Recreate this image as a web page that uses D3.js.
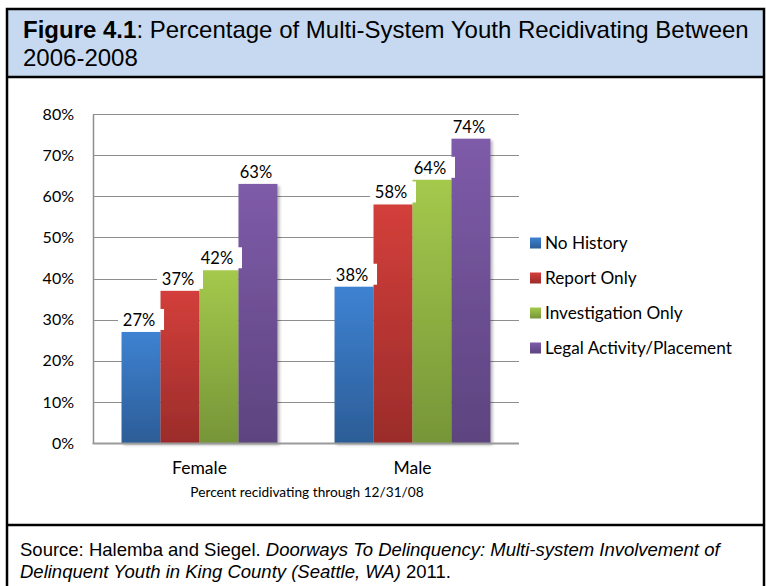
<!DOCTYPE html>
<html>
<head>
<meta charset="utf-8">
<script src="https://cdn.jsdelivr.net/npm/d3@7"></script>
<style>
  html, body { margin: 0; padding: 0; background: #fff; }
  svg { display: block; }
</style>
</head>
<body>
<svg id="chart" width="766" height="586"></svg>
<script>
// Recidivism rates by gender and prior system involvement
const groups = ["Female", "Male"];
const seriesNames = ["No History", "Report Only", "Investigation Only", "Legal Activity/Placement"];
const noHistory = [27, 38];
const reportOnly = [37, 58];
const investigationOnly = [42, 64];
const legalActivity = [63, 74];
const yTicks = [0, 10, 20, 30, 40, 50, 60, 70, 80];

const seriesValues = [noHistory, reportOnly, investigationOnly, legalActivity];
const seriesColors = [
  { top: "#3e82d2", bottom: "#2c5d97" },
  { top: "#d33f3b", bottom: "#9b2c2a" },
  { top: "#a4c94c", bottom: "#769538" },
  { top: "#7e5ba9", bottom: "#5d447f" }
];

const svg = d3.select("#chart");
const W = 766, H = 586;
const chartFont = "Lato, 'Open Sans', sans-serif";
const boxFont = "'Liberation Sans', Arial, sans-serif";

// Figure frame
svg.append("rect").attr("x", 0).attr("y", 0).attr("width", W).attr("height", H).attr("fill", "#fff");
svg.append("rect").attr("x", 7).attr("y", 9).attr("width", 757).attr("height", 68)
  .attr("fill", "#c6d9f1");
const frame = svg.append("g").attr("stroke", "#000").attr("stroke-width", 2.5).attr("fill", "none");
frame.append("path").attr("d", `M7,600 V9 H764 V600`);
frame.append("line").attr("x1", 7).attr("x2", 764).attr("y1", 77).attr("y2", 77);
frame.append("line").attr("x1", 7).attr("x2", 764).attr("y1", 525).attr("y2", 525);

// Title
const title = svg.append("text").attr("font-family", boxFont).attr("font-size", 24).attr("fill", "#000");
const t1 = title.append("tspan").attr("x", 23).attr("y", 38);
t1.append("tspan").attr("font-weight", "bold").text("Figure 4.1");
t1.append("tspan").text(": Percentage of Multi-System Youth Recidivating Between");
title.append("tspan").attr("x", 23).attr("y", 66).text("2006-2008");

// Source note
const src = svg.append("text").attr("font-family", boxFont).attr("font-size", 18.5).attr("fill", "#000");
const s1 = src.append("tspan").attr("x", 20).attr("y", 556);
s1.append("tspan").text("Source: Halemba and Siegel. ");
s1.append("tspan").attr("font-style", "italic").text("Doorways To Delinquency: Multi-system Involvement of");
const s2 = src.append("tspan").attr("x", 20).attr("y", 578);
s2.append("tspan").attr("font-style", "italic").text("Delinquent Youth in King County (Seattle, WA)");
s2.append("tspan").text(" 2011.");

// Gradients for bars
const defs = svg.append("defs");
seriesColors.forEach((c, i) => {
  const g = defs.append("linearGradient").attr("id", "grad" + i)
    .attr("x1", 0).attr("y1", 0).attr("x2", 0).attr("y2", 1);
  g.append("stop").attr("offset", "0%").attr("stop-color", c.top);
  g.append("stop").attr("offset", "100%").attr("stop-color", c.bottom);
});
const shadow = defs.append("filter").attr("id", "barShadow")
  .attr("x", "-10%").attr("y", "-5%").attr("width", "130%").attr("height", "115%");
shadow.append("feDropShadow").attr("dx", 2).attr("dy", 2).attr("stdDeviation", 1.5)
  .attr("flood-color", "#000").attr("flood-opacity", 0.3);

// Scales
const plot = { left: 93, right: 519, top: 114, bottom: 443 };
const y = d3.scaleLinear().domain([0, 80]).range([plot.bottom, plot.top]);
const x0 = d3.scaleBand().domain(groups).range([plot.left, plot.right])
  .paddingInner(0.268).paddingOuter(0.134);
const x1 = d3.scaleBand().domain(seriesNames).range([0, x0.bandwidth()]);

// Gridlines
svg.append("g").selectAll("line").data(yTicks.filter(d => d > 0)).join("line")
  .attr("x1", plot.left).attr("x2", plot.right)
  .attr("y1", d => Math.round(y(d)) + 0.5).attr("y2", d => Math.round(y(d)) + 0.5)
  .attr("stroke", "#8e8e8e").attr("stroke-width", 1);

// Y axis
const yAxis = svg.append("g").attr("transform", `translate(${plot.left},0)`)
  .call(d3.axisLeft(y).tickValues(yTicks).tickFormat(d => d + "%").tickSize(0).tickPadding(19));
yAxis.select(".domain").attr("stroke", "#8e8e8e").attr("stroke-width", 1.5);
yAxis.selectAll("text").attr("font-family", chartFont).attr("font-size", 16).attr("fill", "#000");

// Bars
const barG = svg.append("g");
groups.forEach((grp, gi) => {
  seriesNames.forEach((name, si) => {
    const v = seriesValues[si][gi];
    barG.append("rect")
      .attr("x", x0(grp) + x1(name))
      .attr("y", y(v))
      .attr("width", x1.bandwidth())
      .attr("height", y(0) - y(v))
      .attr("fill", `url(#grad${si})`)
      .attr("filter", "url(#barShadow)");
  });
});

// Baseline
svg.append("line").attr("x1", plot.left - 0.5).attr("x2", plot.right)
  .attr("y1", y(0) + 0.5).attr("y2", y(0) + 0.5)
  .attr("stroke", "#9a9a9a").attr("stroke-width", 2);

// Value labels with white background
const labelG = svg.append("g");
groups.forEach((grp, gi) => {
  seriesNames.forEach((name, si) => {
    const v = seriesValues[si][gi];
    const cx = x0(grp) + x1(name) + x1.bandwidth() / 2;
    const by = y(v) - 6;
    labelG.append("rect").attr("x", cx - 23).attr("y", by - 17).attr("width", 46).attr("height", 21)
      .attr("fill", "#fff");
    labelG.append("text").attr("x", cx - 2).attr("y", by)
      .attr("text-anchor", "middle").attr("font-family", chartFont).attr("font-size", 16.5)
      .attr("fill", "#000").text(v + "%");
  });
});

// Category labels
svg.append("g").selectAll("text").data(groups).join("text")
  .attr("x", d => x0(d) + x0.bandwidth() / 2).attr("y", 474)
  .attr("text-anchor", "middle").attr("font-family", chartFont).attr("font-size", 17.5)
  .attr("fill", "#000").text(d => d);

// Axis title
svg.append("text").attr("x", (plot.left + plot.right) / 2 + 1).attr("y", 497)
  .attr("text-anchor", "middle").attr("font-family", chartFont).attr("font-size", 13.7)
  .attr("fill", "#000").text("Percent recidivating through 12/31/08");

// Legend
const legend = svg.append("g");
seriesNames.forEach((name, i) => {
  const cy = 243 + i * 35;
  legend.append("rect").attr("x", 530).attr("y", cy - 5.5).attr("width", 11).attr("height", 11)
    .attr("fill", `url(#grad${i})`);
  legend.append("text").attr("x", 545).attr("y", cy + 6)
    .attr("font-family", chartFont).attr("font-size", 17.2).attr("fill", "#000").text(name);
});
</script>
</body>
</html>
